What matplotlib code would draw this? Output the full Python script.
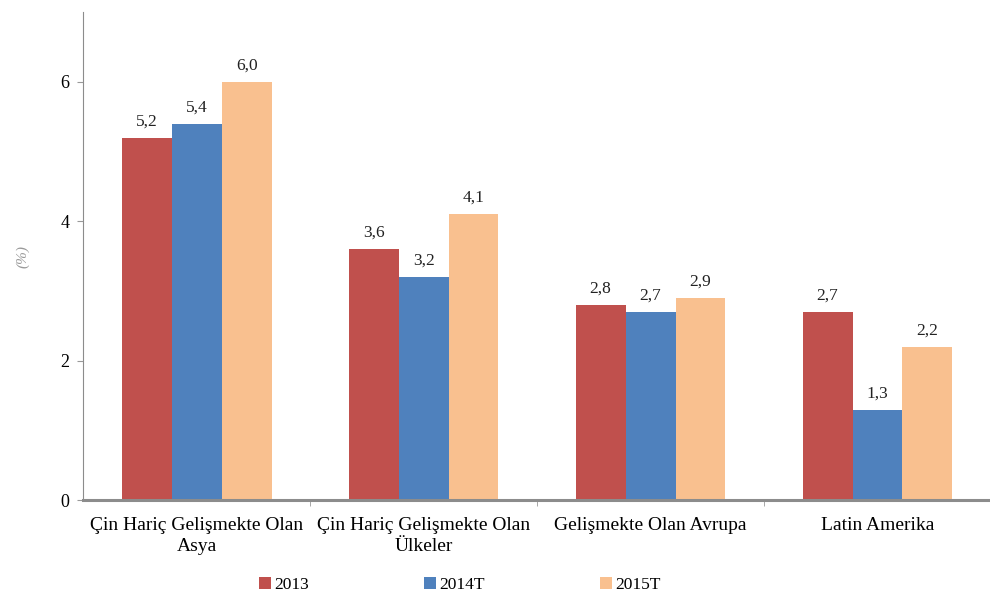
import numpy as np
import matplotlib.pyplot as plt

plt.rcParams['font.family'] = ['Liberation Serif', 'DejaVu Serif']

# veriler
kategoriler = ['Çin Hariç Gelişmekte Olan\nAsya', 'Çin Hariç Gelişmekte Olan\nÜlkeler',
               'Gelişmekte Olan Avrupa', 'Latin Amerika']
seriler = ['2013', '2014T', '2015T']
v2013 = [5.2, 3.6, 2.8, 2.7]
v2014 = [5.4, 3.2, 2.7, 1.3]
v2015 = [6.0, 4.1, 2.9, 2.2]

renkler = ['#C0504D', '#4F81BD', '#F9C08F']

fig = plt.figure(figsize=(9.9, 6.1), dpi=100)
ax = fig.add_axes([0.084, 0.18, 0.917, 0.80])

x = np.arange(len(kategoriler))
w = 0.22
for i, (ad, vals) in enumerate(zip(seriler, [v2013, v2014, v2015])):
    xs = x + (i - 1) * w
    ax.bar(xs, vals, width=w, color=renkler[i], label=ad)
    for xi, v in zip(xs, vals):
        ax.text(xi, v + 0.12, f'{v:.1f}'.replace('.', ','), ha='center', va='bottom',
                fontsize=12.5, color='#222222')

ax.set_xlim(-0.5, 3.5)
ax.set_ylim(0, 7)
ax.set_yticks([0, 2, 4, 6])
ax.set_xticks(x)
ax.set_xticklabels(kategoriler, fontsize=14, linespacing=1.3)
ax.tick_params(axis='x', length=0, pad=12)
ax.set_xticks([0.5, 1.5, 2.5], minor=True)
ax.tick_params(axis='x', which='minor', length=4, color='#999999')
ax.tick_params(axis='y', labelsize=13, length=4, color='#999999', pad=6)

for s in ['top', 'right']:
    ax.spines[s].set_visible(False)
ax.spines['left'].set_color('#8c8c8c')
ax.spines['bottom'].set_color('#8c8c8c')
ax.spines['bottom'].set_linewidth(2.2)

ax.set_ylabel('(%)', fontsize=11, style='italic', color='#999999', labelpad=22)

ax.legend(loc='upper center', bbox_to_anchor=(0.415, -0.125), ncol=3, frameon=False,
          fontsize=12.5, handlelength=0.7, handleheight=0.7, handletextpad=0.2,
          columnspacing=6.6)

fig.savefig('out.png', dpi=100)
